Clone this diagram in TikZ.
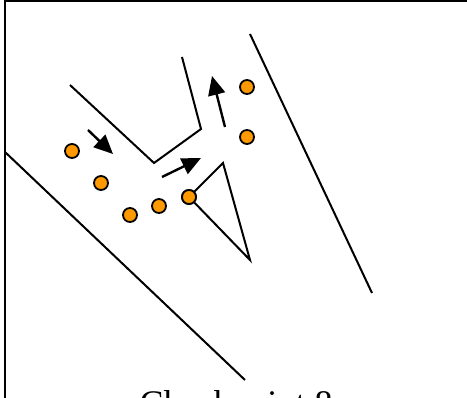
\documentclass[tikz,border=0pt]{standalone}
\usepackage{fontspec}
\setmainfont{Liberation Serif}
\usepackage{xcolor}
\usepackage{tikz}
\usetikzlibrary{arrows.meta}
\definecolor{dotorange}{HTML}{FF9900}
\tikzset{
  >={Triangle[length=19pt,width=17pt]},
  wall/.style={draw, line width=2pt},
  flow/.style={draw, ->, line width=2.4pt},
  car/.style={draw, circle, fill=dotorange, minimum size=14pt, inner sep=0pt, line width=1.8pt},
  frameline/.style={draw, line width=2pt},
}

\begin{document}
\begin{tikzpicture}[x=1pt,y=-1pt]
  \useasboundingbox (0,0) rectangle (467,398);

  % frame
  \coordinate (frameA) at (5,398);
  \coordinate (frameB) at (5,1);
  \coordinate (frameC) at (467,1);
  \draw[frameline] (frameA) -- (frameB) -- (frameC);

  % walls
  \coordinate (leftA) at (5,152);
  \coordinate (leftB) at (245,380);
  \coordinate (rightA) at (250,34);
  \coordinate (rightB) at (372,293);
  \draw[wall] (leftA) -- (leftB);
  \draw[wall] (rightA) -- (rightB);

  % barrier
  \coordinate (barA) at (70,85);
  \coordinate (barB) at (154,163);
  \coordinate (barC) at (201,129);
  \coordinate (barD) at (182,57);
  \draw[wall] (barA) -- (barB) -- (barC) -- (barD);

  % island
  \coordinate (islandA) at (223,163);
  \coordinate (islandB) at (250,260);
  \node[car] (car5) at (189,197) {};
  \draw[wall] (car5) -- (islandA) -- (islandB) -- (car5);
  \node[car] at (189,197) {};

  \node[car] (car1) at (72,151) {};
  \node[car] (car2) at (101,183) {};
  \node[car] (car3) at (130,215) {};
  \node[car] (car4) at (159,206) {};
  \node[car] (car6) at (247,137) {};
  \node[car] (car7) at (247,87) {};

  % direction arrows
  \coordinate (flowAs) at (88,130);
  \coordinate (flowAe) at (113,154);
  \coordinate (flowBs) at (162,177);
  \coordinate (flowBe) at (201,158);
  \coordinate (flowCs) at (225,127);
  \coordinate (flowCe) at (212,76);
  \draw[flow] (flowAs) -- (flowAe);
  \draw[flow] (flowBs) -- (flowBe);
  \draw[flow] (flowCs) -- (flowCe);

  \node[font=\fontsize{36pt}{40pt}\selectfont, anchor=base] (title) at (236,416) {Checkpoint 8};
\end{tikzpicture}
\end{document}
